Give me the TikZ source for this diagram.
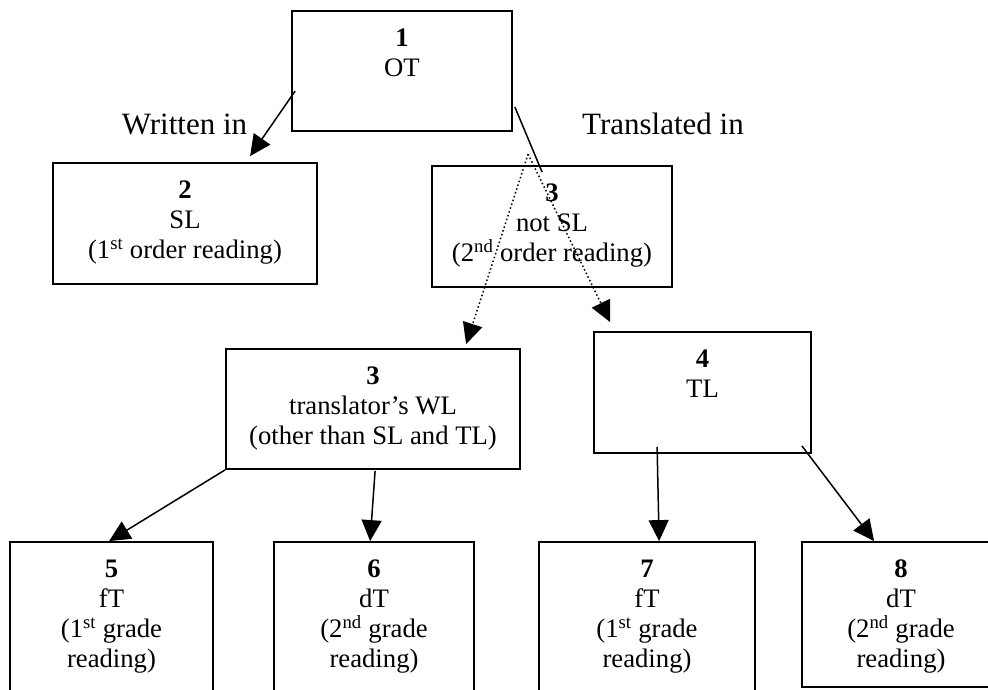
\documentclass[tikz,border=0pt]{standalone}
\usepackage{fontspec}
\setmainfont{Liberation Serif}
\usetikzlibrary{arrows.meta,calc}
\begin{document}
\begin{tikzpicture}[x=1pt,y=-1pt,
  box/.style={draw, line width=1.8pt, inner sep=0pt},
  txt/.style={anchor=north, inner sep=0pt, align=center, font=\fontsize{26.7}{30}\selectfont},
  lbl/.style={anchor=base, inner sep=0pt, font=\fontsize{31}{36}\selectfont},
  plain/.style={line width=1.5pt},
  arr/.style={line width=1.5pt, -{Triangle[length=21pt,width=20pt]}},
  dotarr/.style={arr, dash pattern=on 1.5pt off 2.5pt}]
\useasboundingbox (0,0) rectangle (988,690);
\clip (0,0) rectangle (988,690);

% boxes
\node[box, minimum width=220pt, minimum height=120pt] (b1) at (402,71) {};
\node[box, minimum width=264pt, minimum height=121pt] (b2) at (185,223.5) {};
\node[box, minimum width=240pt, minimum height=121pt] (b3a) at (552,226.5) {};
\node[box, minimum width=294pt, minimum height=120pt] (b3b) at (373,409) {};
\node[box, minimum width=217pt, minimum height=121pt] (b4) at (702.5,392.5) {};
\node[box, minimum width=203pt, minimum height=158pt] (b5) at (111.5,621) {};
\node[box, minimum width=200pt, minimum height=158pt] (b6) at (374,621) {};
\node[box, minimum width=216pt, minimum height=158pt] (b7) at (647,621) {};
\node[box, minimum width=198pt, minimum height=145pt] (b8) at (901,614.5) {};

% texts
\node[txt] (t1) at ($(b1.north)+(0,16.5)$) {\rule{0pt}{20pt}\textbf{1}\\OT};
\node[txt] (t2) at ($(b2.north)+(0,16.5)$) {\rule{0pt}{20pt}\textbf{2}\\SL\\(1\textsuperscript{st} order reading)};
\node[txt] (t3a) at ($(b3a.north)+(0,16.5)$) {\rule{0pt}{20pt}\textbf{3}\\not SL\\(2\textsuperscript{nd} order reading)};
\node[txt] (t3b) at ($(b3b.north)+(0,16.5)$) {\rule{0pt}{20pt}\textbf{3}\\translator’s WL\\(other than SL and TL)};
\node[txt] (t4) at ($(b4.north)+(0,16.5)$) {\rule{0pt}{20pt}\textbf{4}\\TL};
\node[txt] (t5) at ($(b5.north)+(0,16)$) {\rule{0pt}{20pt}\textbf{5}\\fT\\(1\textsuperscript{st} grade\\reading)};
\node[txt] (t6) at ($(b6.north)+(0,16)$) {\rule{0pt}{20pt}\textbf{6}\\dT\\(2\textsuperscript{nd} grade\\reading)};
\node[txt] (t7) at ($(b7.north)+(0,16)$) {\rule{0pt}{20pt}\textbf{7}\\fT\\(1\textsuperscript{st} grade\\reading)};
\node[txt] (t8) at ($(b8.north)+(0,16)$) {\rule{0pt}{20pt}\textbf{8}\\dT\\(2\textsuperscript{nd} grade\\reading)};

% edge labels
\node[lbl] (lw) at (184.5,135) {Written in};
\node[lbl] (lt) at (663,135) {Translated in};

% connectors
\draw[arr] ($(b1.north west)+(4,81)$) -- ($(b2.north west)+(198,-6)$);
\draw[plain] ($(b1.north east)+(2,97)$) -- ($(b3a.north west)+(111,7)$);
\coordinate (apex) at ($(b3a.north west)+(97,-11)$);
\draw[dotarr] (apex) -- ($(b3b.north west)+(241,-4)$);
\draw[dotarr] (apex) -- ($(b4.north west)+(17,-9)$);
\draw[arr] (b3b.south west) -- ($(b5.north west)+(100,0)$);
\draw[arr] ($(b3b.south west)+(150,1)$) -- ($(b6.north west)+(97,0)$);
\draw[arr] ($(b4.south west)+(64,-7)$) -- ($(b7.north west)+(121,0)$);
\draw[arr] ($(b4.south east)+(-10,-8)$) -- ($(b8.north west)+(73,0)$);
\end{tikzpicture}
\end{document}
